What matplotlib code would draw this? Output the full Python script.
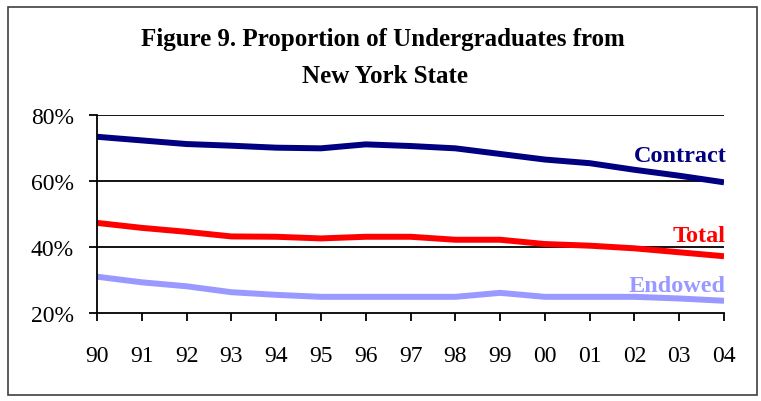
import matplotlib
matplotlib.use("Agg")
import matplotlib.pyplot as plt
import matplotlib.patches as mpatches

plt.rcParams['font.family'] = ['Liberation Serif', 'DejaVu Serif']

years = ["90", "91", "92", "93", "94", "95", "96", "97", "98", "99",
         "00", "01", "02", "03", "04"]
contract = [73.4, 72.3, 71.2, 70.7, 70.1, 69.9, 71.1, 70.6, 69.9, 68.2,
            66.5, 65.4, 63.4, 61.6, 59.6]
total = [47.3, 45.8, 44.6, 43.2, 43.1, 42.6, 43.1, 43.1, 42.2, 42.2,
         40.9, 40.4, 39.6, 38.4, 37.2]
endowed = [31.0, 29.3, 28.1, 26.3, 25.5, 24.9, 24.9, 24.9, 24.9, 26.1,
           24.9, 24.9, 24.9, 24.4, 23.7]
yticks = [20, 40, 60, 80]

fig = plt.figure(figsize=(7.61, 4.02), dpi=100)
ax = fig.add_axes([97/761, 1 - 314/402, (724 - 97)/761, (314 - 116)/402])

# outer frame round the whole chart
fig.patches.append(mpatches.Rectangle((8/761, 6/402), 749/761, 388.5/402,
                                      transform=fig.transFigure, fill=False,
                                      edgecolor='#404040', linewidth=1.2))

x = list(range(len(years)))
ax.plot(x, contract, color='#000080', linewidth=4.3, solid_capstyle='butt')
ax.plot(x, total, color='#FF0000', linewidth=4.3, solid_capstyle='butt')
ax.plot(x, endowed, color='#9999FF', linewidth=4.3, solid_capstyle='butt')

for v in yticks[1:]:
    ax.axhline(v, color='black', linewidth=1.3, zorder=0)

ax.set_xlim(0, len(years) - 1)
ax.set_ylim(20, 80)
ax.set_xticks(x)
ax.set_xticklabels(years)
ax.set_yticks(yticks)
ax.set_yticklabels([f"{v}%" for v in yticks])
ax.tick_params(axis='both', direction='out', length=6, width=1.3,
               labelsize=17, colors='black')
ax.tick_params(axis='x', pad=17)
ax.tick_params(axis='y', pad=10.5)

for s in ['top', 'right']:
    ax.spines[s].set_visible(False)
for s in ['left', 'bottom']:
    ax.spines[s].set_linewidth(1.3)

# series names sit just above the line ends, right aligned
lab = dict(transform=ax.get_yaxis_transform(), ha='right', va='baseline',
           fontsize=17.5, fontweight='bold')
ax.text(1.005, contract[-1] + 6.5, "Contract", color='#000080', **lab)
ax.text(1.003, total[-1] + 4.7, "Total", color='#FF0000', **lab)
ax.text(1.002, endowed[-1] + 3.1, "Endowed", color='#9999FF', **lab)

fig.text(383/761, 1 - 46/402, "Figure 9. Proportion of Undergraduates from",
         ha='center', va='baseline', fontsize=18, fontweight='bold')
fig.text(385/761, 1 - 83/402, "New York State",
         ha='center', va='baseline', fontsize=18, fontweight='bold')

fig.savefig("out.png", dpi=100)
